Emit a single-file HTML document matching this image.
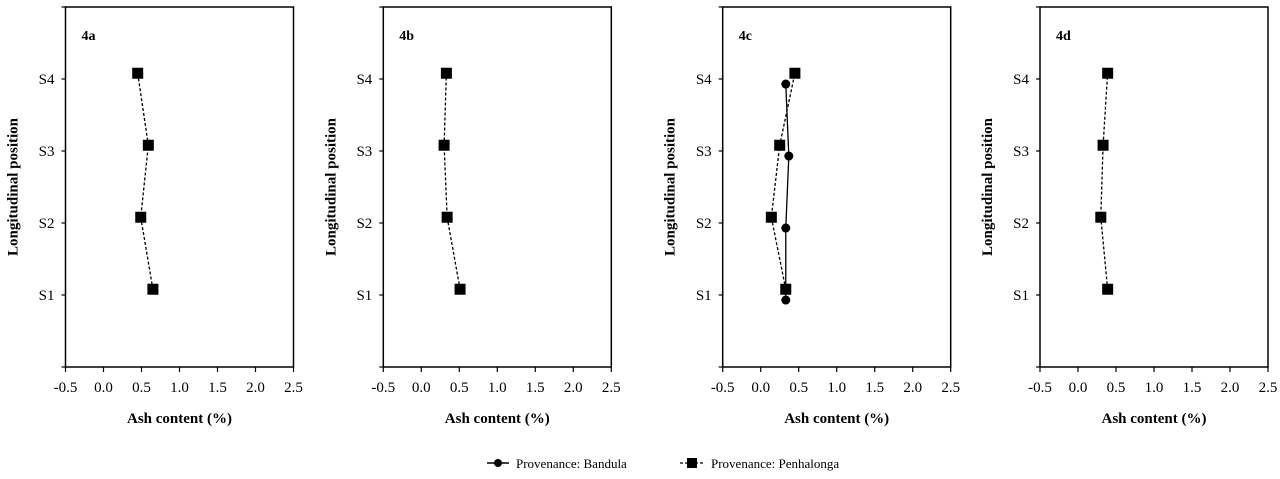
<!DOCTYPE html>
<html><head><meta charset="utf-8"><style>
body{margin:0;background:#fff;}
svg{display:block;font-family:"Liberation Serif",serif;}
</style></head><body>
<svg id="chart" width="1280" height="479" viewBox="0 0 1280 479"></svg>
<script>
const categories = ["S1","S2","S3","S4"];
const xTicks = ["-0.5","0.0","0.5","1.0","1.5","2.0","2.5"];
const panelLabels = ["4a","4b","4c","4d"];
const penhalonga4a = [0.65,0.49,0.59,0.45];
const penhalonga4b = [0.51,0.34,0.30,0.33];
const penhalonga4c = [0.33,0.14,0.25,0.45];
const bandula4c = [0.33,0.33,0.37,0.33];
const penhalonga4d = [0.39,0.30,0.33,0.39];

const svg = document.getElementById('chart');
const NS = 'http://www.w3.org/2000/svg';
function mk(tag, attrs, parent){const e=document.createElementNS(NS,tag);for(const k in attrs)e.setAttribute(k,attrs[k]);(parent||svg).appendChild(e);return e;}
const panelLefts=[65.5,383.3,722.7,1040];
const W=228, plotTop=7, plotBottom=367;
const xMin=-0.5,xMax=2.5,yMax=5;
const series=[
 [{v:penhalonga4a,t:'sq'}],
 [{v:penhalonga4b,t:'sq'}],
 [{v:bandula4c,t:'ci'},{v:penhalonga4c,t:'sq'}],
 [{v:penhalonga4d,t:'sq'}]
];
panelLefts.forEach((L,p)=>{
  const g=mk('g',{});
  
  
  const xs=v=>L+(v-xMin)/(xMax-xMin)*W;
  const ys=c=>plotBottom-c/yMax*(plotBottom-plotTop);
  const frame=mk('rect',{x:L,y:plotTop,width:W,height:plotBottom-plotTop,fill:'none',stroke:'#000','stroke-width':1.5},g);
  
  
  xTicks.forEach(t=>{
    const x=xs(parseFloat(t));
    mk('line',{x1:x,y1:plotBottom,x2:x,y2:plotBottom+5,stroke:'#000','stroke-width':1.2},g);
    const tx=mk('text',{x:x,y:plotBottom+25,'text-anchor':'middle','font-size':15},g);
    tx.textContent=t;
    
    
  });
  for(let c=0;c<=5;c++){mk('line',{x1:L-4,y1:ys(c),x2:L,y2:ys(c),stroke:'#000','stroke-width':1.2},g);}
  categories.forEach((c,i)=>{
    const tx=mk('text',{x:L-11,y:ys(i+1)+5,'text-anchor':'end','font-size':15},g);
    tx.textContent=c;
    
    
  });
  const xt=mk('text',{x:L+W/2,y:423,'text-anchor':'middle','font-size':15,'font-weight':'bold'},g);
  xt.textContent='Ash content (%)';
  
  
  const yt=mk('text',{x:0,y:0,'text-anchor':'middle','font-size':15,'font-weight':'bold',transform:`translate(${L-48},${(plotTop+plotBottom)/2}) rotate(-90)`},g);
  yt.textContent='Longitudinal position';
  
  
  const pl=mk('text',{x:L+16,y:40,'font-size':14,'font-weight':'bold'},g);
  pl.textContent=panelLabels[p];
  
  
  series[p].forEach(s=>{
    const off=s.t==='sq'?0.08:-0.07;
    const pts=s.v.map((v,i)=>[xs(v),ys(i+1+off)]);
    const ln=mk('polyline',{points:pts.map(q=>q.join(',')).join(' '),fill:'none',stroke:'#000','stroke-width':1.3,'stroke-dasharray':s.t==='sq'?'3,2':'none'},g);
    
    
    pts.forEach(q=>{
      let m;
      if(s.t==='sq') m=mk('rect',{x:q[0]-5.5,y:q[1]-5.5,width:11,height:11,fill:'#000'},g);
      else m=mk('circle',{cx:q[0],cy:q[1],r:4.5,fill:'#000'},g);
      
      
    });
  });
});
const lg=mk('g',{});


mk('line',{x1:487,y1:463,x2:509,y2:463,stroke:'#000','stroke-width':1.5},lg);
mk('circle',{cx:498,cy:463,r:4,fill:'#000'},lg);
const t1=mk('text',{x:516,y:468,'font-size':13},lg);
t1.textContent='Provenance: Bandula';


mk('line',{x1:680,y1:463,x2:704,y2:463,stroke:'#000','stroke-width':1.3,'stroke-dasharray':'3,2'},lg);
mk('rect',{x:687,y:458,width:10,height:10,fill:'#000'},lg);
const t2=mk('text',{x:711,y:468,'font-size':13},lg);
t2.textContent='Provenance: Penhalonga';


</script>
</body></html>
